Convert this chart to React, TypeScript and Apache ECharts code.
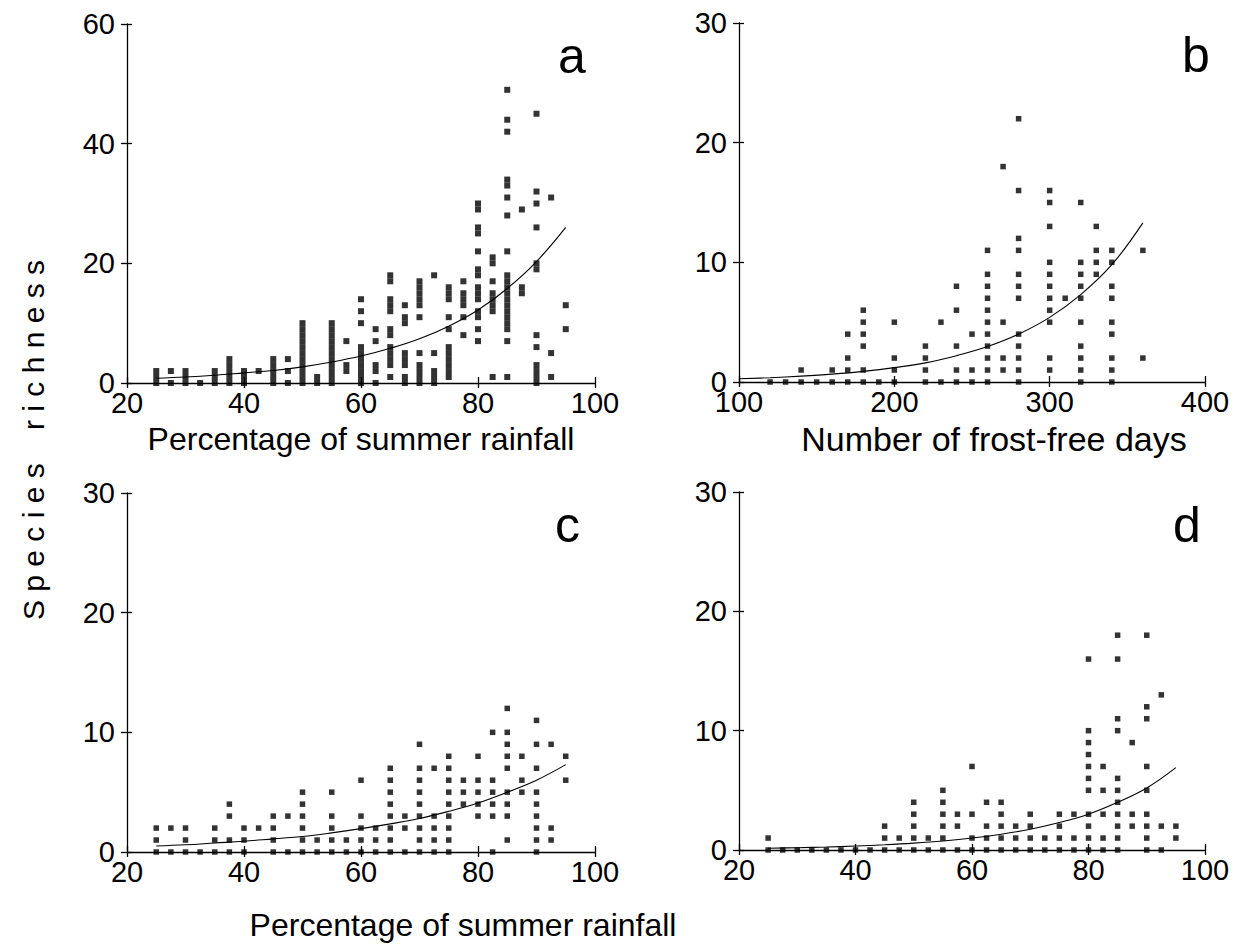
import React, { useEffect, useRef } from "react";
import * as echarts from "echarts";

const FONT = "'Liberation Sans', Arial, Helvetica, sans-serif";

// Panel a: percentage of summer rainfall vs species richness
const aX = [25, 27.5, 30, 32.5, 35, 37.5, 40, 42.5, 45, 47.5, 50, 52.5, 55, 57.5, 60, 62.5, 65, 67.5, 70, 72.5, 75, 77.5, 80, 82.5, 85, 87.5, 90, 92.5, 95];
const aY = [
  [0, 1, 2], [0, 2], [0, 1, 2], [0], [0, 1, 2], [0, 1, 2, 3, 4], [0, 1, 2], [2], [0, 1, 2, 3, 4], [0, 2, 4],
  [0, 1, 2, 3, 4, 5, 6, 7, 8, 9, 10], [0, 1], [0, 1, 2, 3, 4, 5, 6, 7, 8, 9, 10], [2, 3, 7],
  [0, 1, 2, 3, 4, 5, 6, 10, 12, 14], [0, 2, 3, 7, 9], [1, 3, 4, 5, 6, 8, 9, 12, 13, 14, 17, 18],
  [0, 1, 3, 4, 5, 10, 11, 13], [0, 1, 2, 3, 5, 11, 13, 14, 15, 16, 17], [0, 1, 2, 5, 18],
  [1, 2, 3, 4, 5, 6, 9, 11, 14, 15, 16], [8, 11, 13, 14, 15, 17],
  [7, 9, 11, 12, 14, 15, 16, 18, 19, 22, 25, 26, 29, 30], [1, 12, 13, 14, 15, 17, 20, 21],
  [1, 7, 9, 10, 11, 12, 13, 14, 15, 16, 17, 18, 22, 28, 31, 33, 34, 42, 44, 49], [15, 16, 29],
  [0, 1, 2, 3, 6, 8, 19, 20, 26, 30, 32, 45], [1, 5, 31], [9, 13],
];
const aCurveX = [25, 30, 35, 40, 45, 50, 55, 60, 65, 70, 75, 80, 85, 90, 95];
const aCurveY = [0.8, 1.0, 1.3, 1.7, 2.1, 2.7, 3.5, 4.5, 5.8, 7.4, 9.5, 12.2, 15.8, 20.3, 26];

// Panel b: number of frost-free days
const bX = [120, 130, 140, 150, 160, 170, 180, 190, 200, 220, 230, 240, 250, 260, 270, 280, 300, 310, 320, 330, 340, 360];
const bY = [
  [0], [0], [0, 1], [0], [0, 1], [0, 1, 2, 4], [0, 1, 3, 4, 5, 6], [0], [0, 1, 2, 5], [0, 1, 2, 3], [0, 5],
  [0, 1, 3, 6, 8], [0, 1, 4], [0, 1, 2, 3, 4, 5, 6, 7, 8, 9, 11], [1, 2, 5, 18],
  [0, 1, 2, 3, 4, 7, 8, 9, 11, 12, 16, 22], [1, 2, 5, 6, 7, 8, 9, 10, 13, 15, 16], [7],
  [0, 1, 2, 3, 5, 7, 8, 9, 10, 15], [9, 10, 11, 13], [0, 1, 2, 4, 5, 7, 8, 10, 11], [2, 11],
];
const bCurveX = [100, 120, 140, 160, 180, 200, 220, 240, 260, 280, 300, 320, 340, 360];
const bCurveY = [0.27, 0.36, 0.49, 0.66, 0.89, 1.2, 1.6, 2.2, 2.96, 4.0, 5.4, 7.3, 9.8, 13.3];

// Panel c
const cX = [25, 27.5, 30, 32.5, 35, 37.5, 40, 42.5, 45, 47.5, 50, 52.5, 55, 57.5, 60, 62.5, 65, 67.5, 70, 72.5, 75, 77.5, 80, 82.5, 85, 87.5, 90, 92.5, 95];
const cY = [
  [0, 1, 2], [0, 2], [0, 1, 2], [0], [0, 1, 2], [0, 1, 3, 4], [0, 1, 2], [2], [0, 1, 2, 3], [0, 3],
  [0, 1, 2, 3, 4, 5], [0, 1], [0, 1, 2, 3, 5], [0, 1], [0, 1, 2, 3, 6], [0, 1, 2],
  [0, 1, 2, 3, 4, 5, 6, 7], [0, 2, 3], [0, 1, 2, 3, 4, 5, 6, 7, 9], [0, 1, 2, 3, 7],
  [0, 1, 2, 3, 4, 5, 6, 7, 8], [4, 5, 6], [3, 4, 5, 6, 8], [0, 3, 4, 5, 6, 10],
  [1, 3, 4, 5, 7, 8, 9, 10, 12], [5, 6, 8], [0, 1, 2, 3, 4, 5, 7, 9, 11], [1, 2, 9], [6, 8],
];
const cCurveX = [25, 30, 35, 40, 45, 50, 55, 60, 65, 70, 75, 80, 85, 90, 95];
const cCurveY = [0.5, 0.6, 0.75, 0.9, 1.1, 1.3, 1.6, 1.95, 2.35, 2.8, 3.4, 4.1, 5.0, 6.0, 7.3];

// Panel d
const dX = [25, 27.5, 30, 32.5, 35, 37.5, 40, 42.5, 45, 47.5, 50, 52.5, 55, 57.5, 60, 62.5, 65, 67.5, 70, 72.5, 75, 77.5, 80, 82.5, 85, 87.5, 90, 92.5, 95];
const dY = [
  [0, 1], [0], [0], [0], [0], [0], [0], [0], [0, 1, 2], [0, 1], [0, 1, 2, 3, 4], [0, 1], [0, 1, 2, 3, 4, 5],
  [0, 2, 3], [0, 1, 3, 7], [0, 1, 2, 4], [0, 1, 2, 3, 4], [0, 1, 2], [0, 1, 2, 3], [0, 1], [0, 1, 2, 3],
  [0, 1, 3], [0, 1, 2, 3, 5, 6, 7, 8, 9, 10, 16], [0, 1, 3, 5, 7], [0, 1, 2, 3, 4, 5, 6, 10, 11, 16, 18],
  [2, 3, 9], [0, 1, 2, 3, 5, 7, 11, 12, 18], [0, 2, 13], [1, 2],
];
const dCurveX = [25, 30, 35, 40, 45, 50, 55, 60, 65, 70, 75, 80, 85, 90, 95];
const dCurveY = [0.15, 0.19, 0.25, 0.33, 0.44, 0.58, 0.76, 1.0, 1.32, 1.74, 2.3, 3.0, 4.0, 5.2, 6.9];

const panelLetters = ["a", "b", "c", "d"];
const xName = "Percentage of summer rainfall";
const xNameB = "Number of frost-free days";
const yName = "S p e c i e s    r i c h n e s s";

function flatten(xs: number[], ys: number[][]) {
  const out: number[][] = [];
  xs.forEach((x, i) => ys[i].forEach((y) => out.push([x, y])));
  return out;
}
function zip(xs: number[], ys: number[]) {
  return xs.map((x, i) => [x, ys[i]]);
}

export default function App() {
  const ref = useRef<HTMLDivElement>(null);
  useEffect(() => {
    if (!ref.current) return;
    const chart = echarts.init(ref.current, null, { renderer: "svg" });

    const grids = [
      { left: 127, top: 24, width: 468, height: 359 },
      { left: 739, top: 23, width: 466, height: 359 },
      { left: 127, top: 493, width: 468, height: 359 },
      { left: 739, top: 492, width: 466, height: 358 },
    ];
    const xr = [
      { min: 20, max: 100, interval: 20, name: xName, size: 32, pad: [0, 0, 0, 0] },
      { min: 100, max: 400, interval: 100, name: xNameB, size: 34, pad: [0, 0, 0, 44] },
      { min: 20, max: 100, interval: 20, name: "", size: 32, pad: [0, 0, 0, 0] },
      { min: 20, max: 100, interval: 20, name: "", size: 32, pad: [0, 0, 0, 0] },
    ];
    const yr = [
      { min: 0, max: 60, interval: 20 },
      { min: 0, max: 30, interval: 10 },
      { min: 0, max: 30, interval: 10 },
      { min: 0, max: 30, interval: 10 },
    ];
    const symSize = [6, 5.5, 5.5, 5.5];
    const line = { color: "#000", width: 1.3 };
    const xAxis: any[] = [];
    const yAxis: any[] = [];
    grids.forEach((_, k) => {
      xAxis.push({
        type: "value", gridIndex: k, position: "bottom", min: xr[k].min, max: xr[k].max, interval: xr[k].interval,
        axisLine: { show: true, lineStyle: line }, axisTick: { show: true, length: 5, lineStyle: line },
        axisLabel: { fontSize: 29, color: "#000", fontFamily: FONT, margin: 11, lineHeight: 18 },
        splitLine: { show: false },
        name: xr[k].name, nameLocation: "middle", nameGap: 40,
        nameTextStyle: { fontSize: xr[k].size, color: "#000", fontFamily: FONT, padding: xr[k].pad },
      });
      xAxis.push({
        type: "value", gridIndex: k, position: "bottom", min: xr[k].min, max: xr[k].max, interval: xr[k].interval,
        axisLine: { show: false }, axisTick: { show: true, inside: true, length: 6, lineStyle: line },
        axisLabel: { show: false }, splitLine: { show: false },
      });
      yAxis.push({
        type: "value", gridIndex: k, position: "left", min: yr[k].min, max: yr[k].max, interval: yr[k].interval,
        axisLine: { show: true, lineStyle: line }, axisTick: { show: true, length: 6, lineStyle: line },
        axisLabel: { fontSize: 29, color: "#000", fontFamily: FONT, margin: 12, lineHeight: 18 },
        splitLine: { show: false },
      });
      yAxis.push({
        type: "value", gridIndex: k, position: "left", min: yr[k].min, max: yr[k].max, interval: yr[k].interval,
        axisLine: { show: false }, axisTick: { show: true, inside: true, length: 5, lineStyle: line },
        axisLabel: { show: false }, splitLine: { show: false },
      });
    });

    const pts = [flatten(aX, aY), flatten(bX, bY), flatten(cX, cY), flatten(dX, dY)];
    const curves = [zip(aCurveX, aCurveY), zip(bCurveX, bCurveY), zip(cCurveX, cCurveY), zip(dCurveX, dCurveY)];
    const series: any[] = [];
    grids.forEach((_, k) => {
      series.push({
        type: "scatter", xAxisIndex: 2 * k, yAxisIndex: 2 * k, data: pts[k],
        symbol: "rect", symbolSize: symSize[k], itemStyle: { color: "#000" }, silent: true,
      });
      series.push({
        type: "line", xAxisIndex: 2 * k, yAxisIndex: 2 * k, data: curves[k], smooth: 0.4,
        showSymbol: false, symbol: "none", lineStyle: { color: "#000", width: 1.1 }, silent: true,
      });
    });

    const letterPos = [
      { x: 558, y: 56 },
      { x: 1182, y: 55 },
      { x: 555, y: 525 },
      { x: 1173, y: 525 },
    ];
    const graphic: any[] = panelLetters.map((t, i) => ({
      type: "text", x: letterPos[i].x, y: letterPos[i].y, silent: true,
      style: { text: t, font: `50px ${FONT}`, fill: "#000", align: "left", verticalAlign: "middle", textAlign: "left", textVerticalAlign: "middle" },
    }));
    graphic.push({
      type: "text", x: 33, y: 440, rotation: Math.PI / 2, silent: true,
      style: { text: yName, font: `30px ${FONT}`, fill: "#000", align: "center", verticalAlign: "middle", textAlign: "center", textVerticalAlign: "middle" },
    });
    graphic.push({
      type: "text", x: 463, y: 925, silent: true,
      style: { text: xName, font: `32px ${FONT}`, fill: "#000", align: "center", verticalAlign: "middle", textAlign: "center", textVerticalAlign: "middle" },
    });

    chart.setOption({
      animation: false,
      backgroundColor: "#fff",
      grid: grids,
      xAxis,
      yAxis,
      series,
      graphic,
    });
    return () => chart.dispose();
  }, []);
  return <div ref={ref} style={{ position: "fixed", left: 0, top: 0, width: 1241, height: 948 }} />;
}
